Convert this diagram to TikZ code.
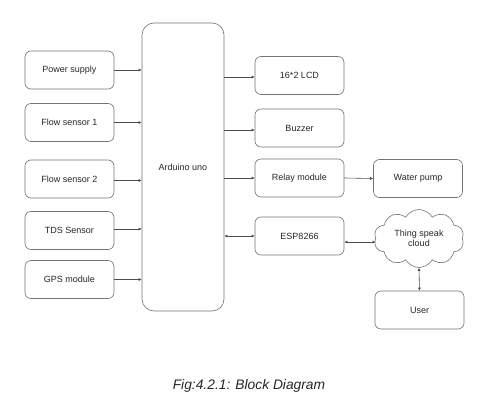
\documentclass[tikz,border=0pt]{standalone}
\usepackage{fontspec}
\setmainfont{Liberation Sans}
\usetikzlibrary{shapes.symbols,arrows.meta,calc}
\begin{document}
\begin{tikzpicture}[x=1pt,y=-1pt,
  blk/.style={draw=black!55,line width=0.6pt,rounded corners=6pt,minimum width=89pt,minimum height=38pt,inner sep=0pt,font=\fontsize{9}{10.5}\selectfont,text=black!85},
  cl/.style={draw=black!55,line width=0.6pt,cloud,cloud puffs=10,cloud puff arc=120,aspect=1.6,minimum width=90pt,minimum height=58pt,inner sep=0pt,font=\fontsize{9}{10.5}\selectfont,text=black!85,align=center},
  arr/.style={draw=black!70,line width=0.6pt,-{Latex[length=3pt,width=3pt]}},
  barr/.style={draw=black!70,line width=0.6pt,{Latex[length=3pt,width=3pt]}-{Latex[length=3pt,width=3pt]}}]
\useasboundingbox (0,0) rectangle (501,404);
% left column
\node[blk] (ps) at (69.5,70) {Power supply};
\node[blk] (fs1) at (69.5,122.5) {Flow sensor 1};
\node[blk] (fs2) at (69.5,179) {Flow sensor 2};
\node[blk] (tds) at (69.5,230.5) {TDS Sensor};
\node[blk] (gps) at (69.5,279.5) {GPS module};
% arduino
\node[blk,rounded corners=12pt,minimum width=82pt,minimum height=288pt] (ard) at (183,167) {Arduino uno};
% right column
\node[blk] (lcd) at (299.5,75.5) {16*2 LCD};
\node[blk] (buz) at (299.5,128) {Buzzer};
\node[blk] (rel) at (299.5,178) {Relay module};
\node[blk] (esp) at (299.5,236) {ESP8266};
\node[blk] (wp) at (418,178.5) {Water pump};
\node[cl] (cloud) at (419,238.5) {Thing speak\\cloud};
\node[blk] (user) at (419.5,310) {User};
% arrows in
\draw[arr] (ps.east) -- (ps.east -| ard.west);
\draw[arr] (fs1.east) -- (fs1.east -| ard.west);
\draw[arr] ([yshift=-1.5pt]fs2.east) -- ([yshift=-1.5pt]fs2.east -| ard.west);
\draw[arr] ([yshift=1.5pt]tds.east) -- ([yshift=1.5pt]tds.east -| ard.west);
\draw[arr] (gps.east) -- (gps.east -| ard.west);
% arrows out
\draw[arr] ([yshift=-1.5pt]lcd.west -| ard.east) -- ([yshift=-1.5pt]lcd.west);
\draw[arr] ([yshift=-2pt]buz.west -| ard.east) -- ([yshift=-2pt]buz.west);
\draw[arr] (rel.west -| ard.east) -- (rel.west);
\draw[barr] (esp.west -| ard.east) -- (esp.west);
\draw[arr] (rel.east) -- (wp.west);
\draw[barr] ([yshift=-6pt]esp.east) -- ([yshift=-6pt]esp.east -| cloud.west);
\draw[barr] (cloud.south) -- (user.north);
% caption
\node[font=\fontsize{13.8}{16}\selectfont\itshape,text=black!85] (cap) at (249,386) {Fig:4.2.1: Block Diagram};
\end{tikzpicture}
\end{document}
